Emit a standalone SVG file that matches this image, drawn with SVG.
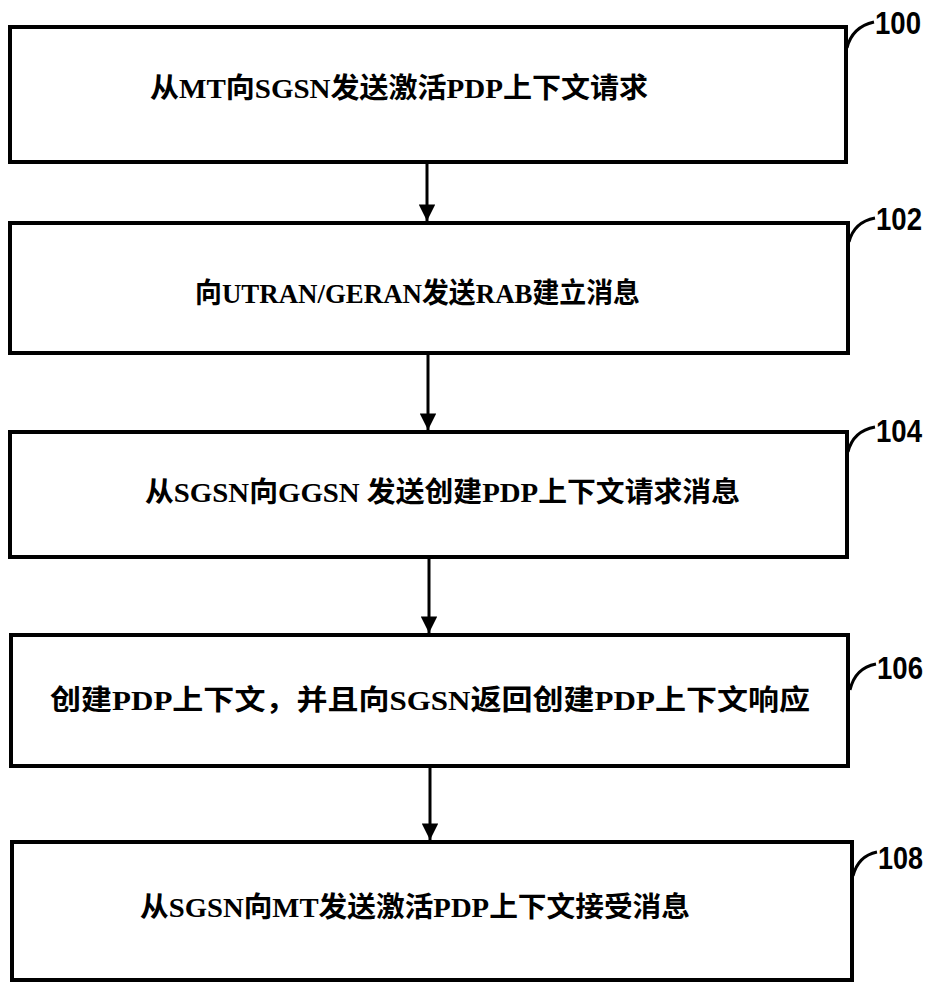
<svg xmlns="http://www.w3.org/2000/svg" width="933" height="983" viewBox="0 0 933 983">
<defs>
<style>
.box{fill:#fff;stroke:#000;stroke-width:4}
.t{font-family:"Liberation Serif","Noto Sans CJK SC",serif;font-weight:bold;font-size:28px;fill:#000}
.lbl{font-family:"Liberation Sans",Arial,sans-serif;font-weight:bold;font-size:32px;fill:#000}
.lead{fill:none;stroke:#000;stroke-width:3}
.conn{stroke:#000;stroke-width:3}
</style>
<marker id="ah" viewBox="0 0 10 10" refX="10" refY="5" markerWidth="7" markerHeight="5.5" markerUnits="strokeWidth" orient="auto">
<path d="M0,0 L10,5 L0,10 z" fill="#000"/>
</marker>
</defs>
<rect width="933" height="983" fill="#fff"/>
<g id="connectors">
<line class="conn" x1="427" y1="162" x2="427" y2="221" marker-end="url(#ah)"/>
<line class="conn" x1="428" y1="353" x2="428" y2="430" marker-end="url(#ah)"/>
<line class="conn" x1="429" y1="557" x2="429" y2="633" marker-end="url(#ah)"/>
<line class="conn" x1="430" y1="766" x2="430" y2="840" marker-end="url(#ah)"/>
</g>
<g id="n100">
<rect class="box" x="10" y="27" width="836" height="135"/>
<text class="t" x="150" y="98" textLength="498" lengthAdjust="spacingAndGlyphs">从MT向SGSN发送激活PDP上下文请求</text>
<path class="lead" d="M847,48 Q852,27 874,22"/>
<text class="lbl" x="875" y="34" textLength="46" lengthAdjust="spacingAndGlyphs">100</text>
</g>
<g id="n102">
<rect class="box" x="10" y="223" width="838" height="130"/>
<text class="t" x="195" y="303" textLength="445" lengthAdjust="spacingAndGlyphs">向UTRAN/GERAN发送RAB建立消息</text>
<path class="lead" d="M849,242 Q854,222 875,218"/>
<text class="lbl" x="876" y="230" textLength="46" lengthAdjust="spacingAndGlyphs">102</text>
</g>
<g id="n104">
<rect class="box" x="10" y="432" width="837" height="125"/>
<text class="t" x="145" y="502" textLength="595" lengthAdjust="spacingAndGlyphs">从SGSN向GGSN 发送创建PDP上下文请求消息</text>
<path class="lead" d="M848,452 Q853,431 875,427"/>
<text class="lbl" x="876" y="442" textLength="46" lengthAdjust="spacingAndGlyphs">104</text>
</g>
<g id="n106">
<rect class="box" x="11" y="635" width="837" height="131"/>
<text class="t" x="50" y="710" textLength="760" lengthAdjust="spacingAndGlyphs">创建PDP上下文，并且向SGSN返回创建PDP上下文响应</text>
<path class="lead" d="M850,690 Q855,668 876,664"/>
<text class="lbl" x="877" y="679" textLength="46" lengthAdjust="spacingAndGlyphs">106</text>
</g>
<g id="n108">
<rect class="box" x="12" y="842" width="840" height="138"/>
<text class="t" x="140" y="917" textLength="550" lengthAdjust="spacingAndGlyphs">从SGSN向MT发送激活PDP上下文接受消息</text>
<path class="lead" d="M853,876 Q858,856 877,852"/>
<text class="lbl" x="878" y="869" textLength="45" lengthAdjust="spacingAndGlyphs">108</text>
</g>
</svg>
